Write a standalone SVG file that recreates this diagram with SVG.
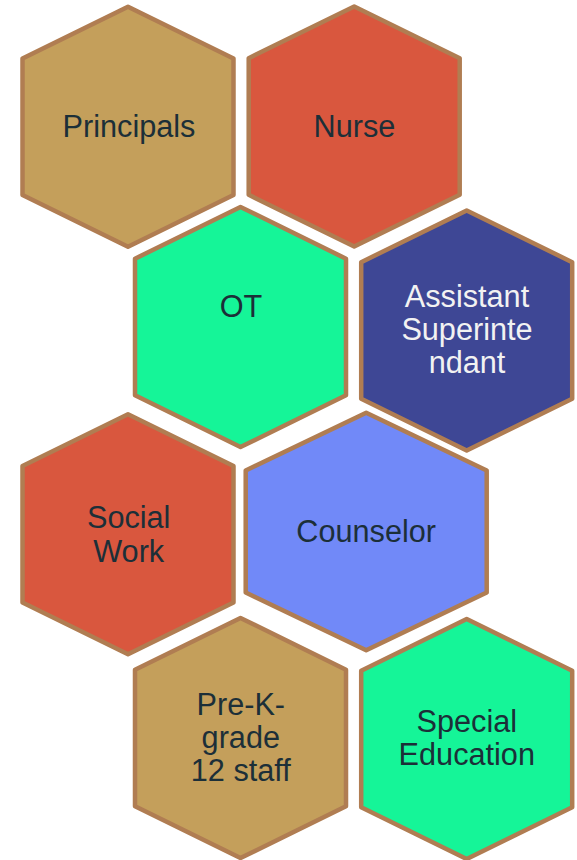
<svg xmlns="http://www.w3.org/2000/svg" width="577" height="860" viewBox="0 0 577 860">
<style>
.hex{stroke:#B07D52;stroke-width:4.5;stroke-linejoin:round}
.t{font-family:"Liberation Sans",Arial,sans-serif;font-size:30.67px;text-anchor:middle;fill:#1C2F38}
.w{fill:#F2F2F2}
</style>
<rect width="577" height="860" fill="#FFFFFF"/>
<g id="connectors"/>
<g id="principals">
<polygon class="hex" fill="#C49F5B" points="128,6.7 233.5,58.4 233.5,195 128,246.7 22.5,195 22.5,58.4"/>
<text class="t" x="129" y="136.5">Principals</text>
</g>
<g id="nurse">
<polygon class="hex" fill="#D9573E" points="354.2,6.5 459.7,58.2 459.7,194.8 354.2,246.5 248.7,194.8 248.7,58.2"/>
<text class="t" x="354.5" y="136.5">Nurse</text>
</g>
<g id="ot">
<polygon class="hex" fill="#15F598" points="240.5,207 346,258.7 346,395.3 240.5,447 135,395.3 135,258.7"/>
<text class="t" x="241" y="316.5">OT</text>
</g>
<g id="assistant-superintendant">
<polygon class="hex" fill="#3E4795" points="466.7,210.5 572.2,262.2 572.2,398.8 466.7,450.5 361.2,398.8 361.2,262.2"/>
<text class="t w" x="467" y="307.3">Assistant</text>
<text class="t w" x="467" y="340">Superinte</text>
<text class="t w" x="467" y="372.7">ndant</text>
</g>
<g id="social-work">
<polygon class="hex" fill="#D9573E" points="128,414.2 233.5,465.9 233.5,602.5 128,654.2 22.5,602.5 22.5,465.9"/>
<text class="t" x="128.7" y="528">Social</text>
<text class="t" x="128.7" y="561.5">Work</text>
</g>
<g id="counselor">
<polygon class="hex" fill="#7189F8" points="366.2,412.7 486.7,470.5 486.7,592.5 366.2,650.3 245.7,592.5 245.7,470.5"/>
<text class="t" x="366.2" y="541.7">Counselor</text>
</g>
<g id="pre-k">
<polygon class="hex" fill="#C49F5B" points="240.5,618 346,669.7 346,806.3 240.5,858 135,806.3 135,669.7"/>
<text class="t" x="240.8" y="715">Pre-K-</text>
<text class="t" x="240.8" y="748">grade</text>
<text class="t" x="240.8" y="781">12 staff</text>
</g>
<g id="special-education">
<polygon class="hex" fill="#15F598" points="466.7,619 572.2,670.7 572.2,807.3 466.7,859 361.2,807.3 361.2,670.7"/>
<text class="t" x="466.8" y="731.5">Special</text>
<text class="t" x="466.8" y="765">Education</text>
</g>
</svg>
